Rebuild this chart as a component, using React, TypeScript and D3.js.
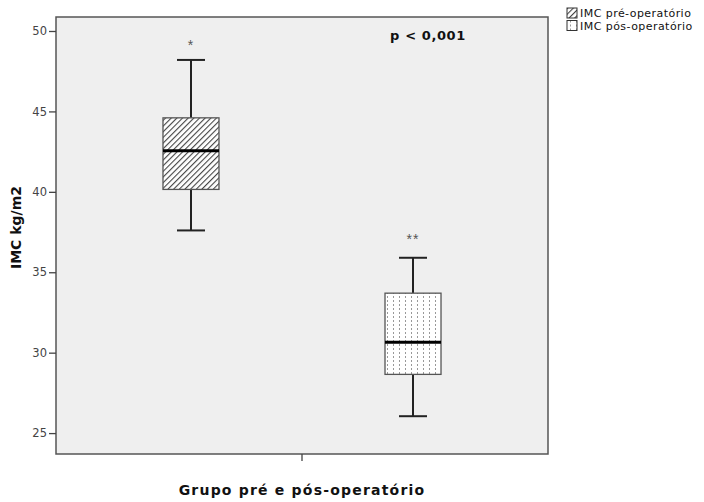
import React, { useEffect, useRef } from 'react';
import * as d3 from 'd3';

// groups + five-number summaries
const groups = ['IMC pré-operatório', 'IMC pós-operatório'];
const whiskerLow = [37.6, 26.05];
const q1 = [40.15, 28.65];
const median = [42.55, 30.65];
const q3 = [44.6, 33.7];
const whiskerHigh = [48.2, 35.9];
const outlierMark = [49.2, 37.1];
const outlierText = ['*', '**'];
const yTicks = [25, 30, 35, 40, 45, 50];

const width = 704;
const height = 502;
const margin = { top: 17, right: 156, bottom: 48, left: 56 };
const font = 'DejaVu Sans, Verdana, sans-serif';

const App = () => {
  const ref = useRef<SVGSVGElement>(null);

  useEffect(() => {
    const svg = d3.select(ref.current);
    svg.selectAll('*').remove();

    const x = d3.scalePoint<string>()
      .domain(groups)
      .range([margin.left, width - margin.right])
      .padding(0.608);

    const y = d3.scaleLinear()
      .domain([23.7, 50.87])
      .range([height - margin.bottom, margin.top]);

    const boxW = 56;

    const defs = svg.append('defs');
    const hatch = defs.append('pattern')
      .attr('id', 'hatch')
      .attr('patternUnits', 'userSpaceOnUse')
      .attr('width', 4)
      .attr('height', 4)
      .attr('patternTransform', 'rotate(45)');
    hatch.append('rect').attr('width', 4).attr('height', 4).attr('fill', '#ffffff');
    hatch.append('line')
      .attr('x1', 0).attr('y1', 0).attr('x2', 0).attr('y2', 4)
      .attr('stroke', '#444').attr('stroke-width', 2.2);

    const dots = defs.append('pattern')
      .attr('id', 'dots')
      .attr('patternUnits', 'userSpaceOnUse')
      .attr('width', 6)
      .attr('height', 4)
      .attr('x', 1);
    dots.append('rect').attr('width', 6).attr('height', 4).attr('fill', '#ffffff');
    dots.append('rect').attr('x', 2).attr('y', 0).attr('width', 1).attr('height', 2).attr('fill', '#999');

    const fills = ['url(#hatch)', 'url(#dots)'];

    // plot area
    svg.append('rect')
      .attr('x', margin.left)
      .attr('y', margin.top)
      .attr('width', width - margin.left - margin.right)
      .attr('height', height - margin.top - margin.bottom)
      .attr('fill', '#efefef')
      .attr('stroke', '#555')
      .attr('stroke-width', 1.5);

    // y axis
    const yAxis = svg.append('g')
      .attr('transform', `translate(${margin.left},0)`)
      .call(d3.axisLeft(y).tickValues(yTicks).tickSize(7).tickPadding(2));
    yAxis.select('.domain').remove();
    yAxis.selectAll('line').attr('stroke', '#444').attr('stroke-width', 1.3);
    yAxis.selectAll('text')
      .attr('font-family', font)
      .attr('font-size', 11.5)
      .attr('fill', '#444');

    // single x tick in the middle
    svg.append('line')
      .attr('x1', (margin.left + width - margin.right) / 2)
      .attr('x2', (margin.left + width - margin.right) / 2)
      .attr('y1', height - margin.bottom)
      .attr('y2', height - margin.bottom + 7)
      .attr('stroke', '#444')
      .attr('stroke-width', 1.3);

    groups.forEach((g, i) => {
      const cx = x(g) as number;
      const box = svg.append('g');
      // whiskers
      box.append('line')
        .attr('x1', cx).attr('x2', cx)
        .attr('y1', y(whiskerHigh[i])).attr('y2', y(q3[i]))
        .attr('stroke', '#222').attr('stroke-width', 2);
      box.append('line')
        .attr('x1', cx).attr('x2', cx)
        .attr('y1', y(q1[i])).attr('y2', y(whiskerLow[i]))
        .attr('stroke', '#222').attr('stroke-width', 2);
      [whiskerHigh[i], whiskerLow[i]].forEach(v => {
        box.append('line')
          .attr('x1', cx - boxW / 4).attr('x2', cx + boxW / 4)
          .attr('y1', y(v)).attr('y2', y(v))
          .attr('stroke', '#222').attr('stroke-width', 2);
      });
      box.append('rect')
        .attr('x', cx - boxW / 2)
        .attr('y', y(q3[i]))
        .attr('width', boxW)
        .attr('height', y(q1[i]) - y(q3[i]))
        .attr('fill', fills[i])
        .attr('stroke', '#555')
        .attr('stroke-width', 1.3);
      box.append('line')
        .attr('x1', cx - boxW / 2).attr('x2', cx + boxW / 2)
        .attr('y1', y(median[i])).attr('y2', y(median[i]))
        .attr('stroke', '#000').attr('stroke-width', 3);
      box.append('text')
        .attr('x', cx)
        .attr('y', y(outlierMark[i]) + 6)
        .attr('text-anchor', 'middle')
        .attr('font-family', 'Liberation Sans, Arial, sans-serif')
        .attr('font-size', 14)
        .attr('letter-spacing', 1)
        .attr('fill', '#555')
        .text(outlierText[i]);
    });

    // p value
    svg.append('text')
      .attr('x', 428)
      .attr('y', 40)
      .attr('text-anchor', 'middle')
      .attr('font-family', font)
      .attr('font-size', 13)
      .attr('font-weight', 'bold')
      .attr('letter-spacing', 0.6)
      .attr('fill', '#111')
      .text('p < 0,001');

    // axis titles
    svg.append('text')
      .attr('transform', `translate(21,${(margin.top + height - margin.bottom) / 2 - 8}) rotate(-90)`)
      .attr('text-anchor', 'middle')
      .attr('font-family', font)
      .attr('font-size', 14)
      .attr('font-weight', 'bold')
      .attr('fill', '#111')
      .text('IMC kg/m2');

    svg.append('text')
      .attr('x', (margin.left + width - margin.right) / 2)
      .attr('y', 495)
      .attr('text-anchor', 'middle')
      .attr('font-family', font)
      .attr('font-size', 14)
      .attr('font-weight', 'bold')
      .attr('letter-spacing', 1.2)
      .attr('fill', '#111')
      .text('Grupo pré e pós-operatório');

    // legend
    const legend = svg.append('g').attr('transform', 'translate(567,8)');
    groups.forEach((g, i) => {
      const row = legend.append('g').attr('transform', `translate(0,${i * 12.5})`);
      row.append('rect')
        .attr('x', 0).attr('y', 0).attr('width', 10).attr('height', 10)
        .attr('fill', fills[i])
        .attr('stroke', '#333').attr('stroke-width', 1);
      row.append('text')
        .attr('x', 13).attr('y', 9)
        .attr('font-family', font)
        .attr('font-size', 11)
        .attr('letter-spacing', 0.45)
        .attr('fill', '#111')
        .text(g);
    });
  }, []);

  return (
    <svg ref={ref} width={width} height={height}
      style={{ position: 'absolute', left: 0, top: 0, background: '#fff' }} />
  );
};

export default App;
